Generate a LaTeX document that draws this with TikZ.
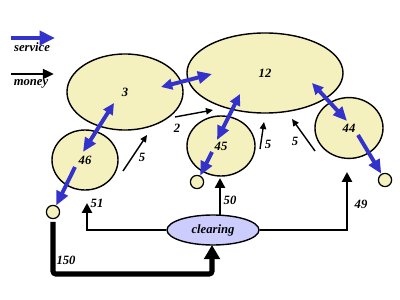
\documentclass[tikz,border=0pt]{standalone}
\usepackage{fontspec}
\setmainfont{Liberation Serif}
\usepackage{xcolor}
\usetikzlibrary{positioning, shapes.geometric, arrows.meta}

\definecolor{agentfill}{RGB}{245,241,190}
\definecolor{clearfill}{RGB}{204,204,255}
\definecolor{svcblue}{RGB}{51,51,204}

\tikzset{
	txt/.style={font=\bfseries\itshape\fontsize{9}{10}\selectfont, inner sep=0pt},
	agent/.style={ellipse, draw, line width=1pt, fill=agentfill, inner sep=0pt, txt},
	sink/.style={circle, draw, line width=0.9pt, fill=agentfill, inner sep=0pt, minimum size=0.33cm},
	svc/.style={draw=svcblue, line width=2.8pt, -{Triangle[length=10pt, width=8.5pt]}},
	svcboth/.style={svc, {Triangle[length=8pt, width=7.5pt]}-{Triangle[length=10pt, width=8.5pt]}},
	money/.style={line width=1pt, -{Triangle[length=5pt, width=4.5pt]}},
	flow/.style={line width=1.8pt, -{Triangle[length=7pt, width=7pt]}},
	bigflow/.style={line width=3.6pt, rounded corners=2pt, -{Triangle[length=10pt, width=11pt]}},
}

\begin{document}
\begin{tikzpicture}[x=0.025cm, y=-0.025cm]
	\useasboundingbox (0,0) rectangle (400,300);
	% Legend:
	\coordinate (legS0) at (11,38);
	\coordinate (legS1) at (55,38);
	\coordinate (legM0) at (11,74);
	\coordinate (legM1) at (54,74);
	\draw[draw=svcblue, line width=3.2pt, -{Triangle[length=11pt, width=10pt]}] (legS0) -- (legS1);
	\node[txt] (legSvc) at (32,47){service};
	\draw[line width=1.8pt, -{Triangle[length=8pt, width=7pt]}] (legM0) -- (legM1);
	\node[txt] (legMoney) at (31,84){money};
	% Agents:
	\node[agent, minimum width=2.9cm, minimum height=1.9cm] (a3) at (125,92){3};
	\node[agent, minimum width=3.9cm, minimum height=2.0cm] (a12) at (265,73){12};
	\node[agent, minimum width=1.65cm, minimum height=1.5cm] (a46) at (85,160){46};
	\node[agent, minimum width=1.7cm, minimum height=1.5cm] (a45) at (221,146){45};
	\node[agent, minimum width=1.7cm, minimum height=1.52cm] (a44) at (349,128){44};
	\node[sink] (snk46) at (53,212){};
	\node[sink] (snk45) at (197,182){};
	\node[sink] (snk44) at (385,180){};
	\node[ellipse, draw, line width=1pt, fill=clearfill, inner sep=0pt, minimum width=2.3cm, minimum height=0.75cm, txt] (clr) at (213,230){clearing};
	% Service flows:
	\coordinate (s3a) at (161,87);
	\coordinate (s12a) at (212,74);
	\coordinate (s3b) at (114,103);
	\coordinate (s46a) at (83,152);
	\coordinate (s46b) at (75,167);
	\coordinate (s12b) at (240,94);
	\coordinate (s45a) at (217,140);
	\coordinate (s45b) at (212,152);
	\coordinate (s12c) at (312,83);
	\coordinate (s44a) at (347,121);
	\coordinate (s44b) at (358,135);
	\draw[svcboth] (s3a) -- (s12a);
	\draw[svcboth] (s3b) -- (s46a);
	\draw[svc] (s46b) -- (snk46);
	\draw[svcboth] (s12b) -- (s45a);
	\draw[svc] (s45b) -- (snk45);
	\draw[svcboth] (s12c) -- (s44a);
	\draw[svc] (s44b) -- (snk44);
	% Money flows between agents:
	\coordinate (m2a) at (175,117);
	\coordinate (m2b) at (213,110);
	\coordinate (m5a) at (123,171);
	\coordinate (m5b) at (147,135);
	\coordinate (m5c) at (260,149);
	\coordinate (m5d) at (264,122);
	\coordinate (m5e) at (315,151);
	\coordinate (m5f) at (292,119);
	\draw[money] (m2a) -- (m2b);
	\draw[money] (m5a) -- (m5b);
	\draw[money] (m5c) -- (m5d);
	\draw[money] (m5e) -- (m5f);
	\node[txt] (l2) at (177,128){2};
	\node[txt] (l5a) at (142,157){5};
	\node[txt] (l5b) at (268,144){5};
	\node[txt] (l5c) at (295,141){5};
	% Clearing:
	\coordinate (c51) at (87,203);
	\coordinate (c50a) at (220,216);
	\coordinate (c50b) at (220,178);
	\coordinate (c49) at (347,172);
	\coordinate (c150a) at (53,222);
	\coordinate (c150b) at (212,274);
	\coordinate (c150c) at (212,245);
	\draw[flow] (clr.west) -| (c51);
	\draw[flow] (c50a) -- (c50b);
	\draw[flow] (clr.east) -| (c49);
	\draw[bigflow] (c150a) |- (c150b) -- (c150c);
	\node[txt] (l51) at (97,203){51};
	\node[txt] (l50) at (230,200){50};
	\node[txt] (l49) at (361,204){49};
	\node[txt] (l150) at (66,260){150};
\end{tikzpicture}
\end{document}
